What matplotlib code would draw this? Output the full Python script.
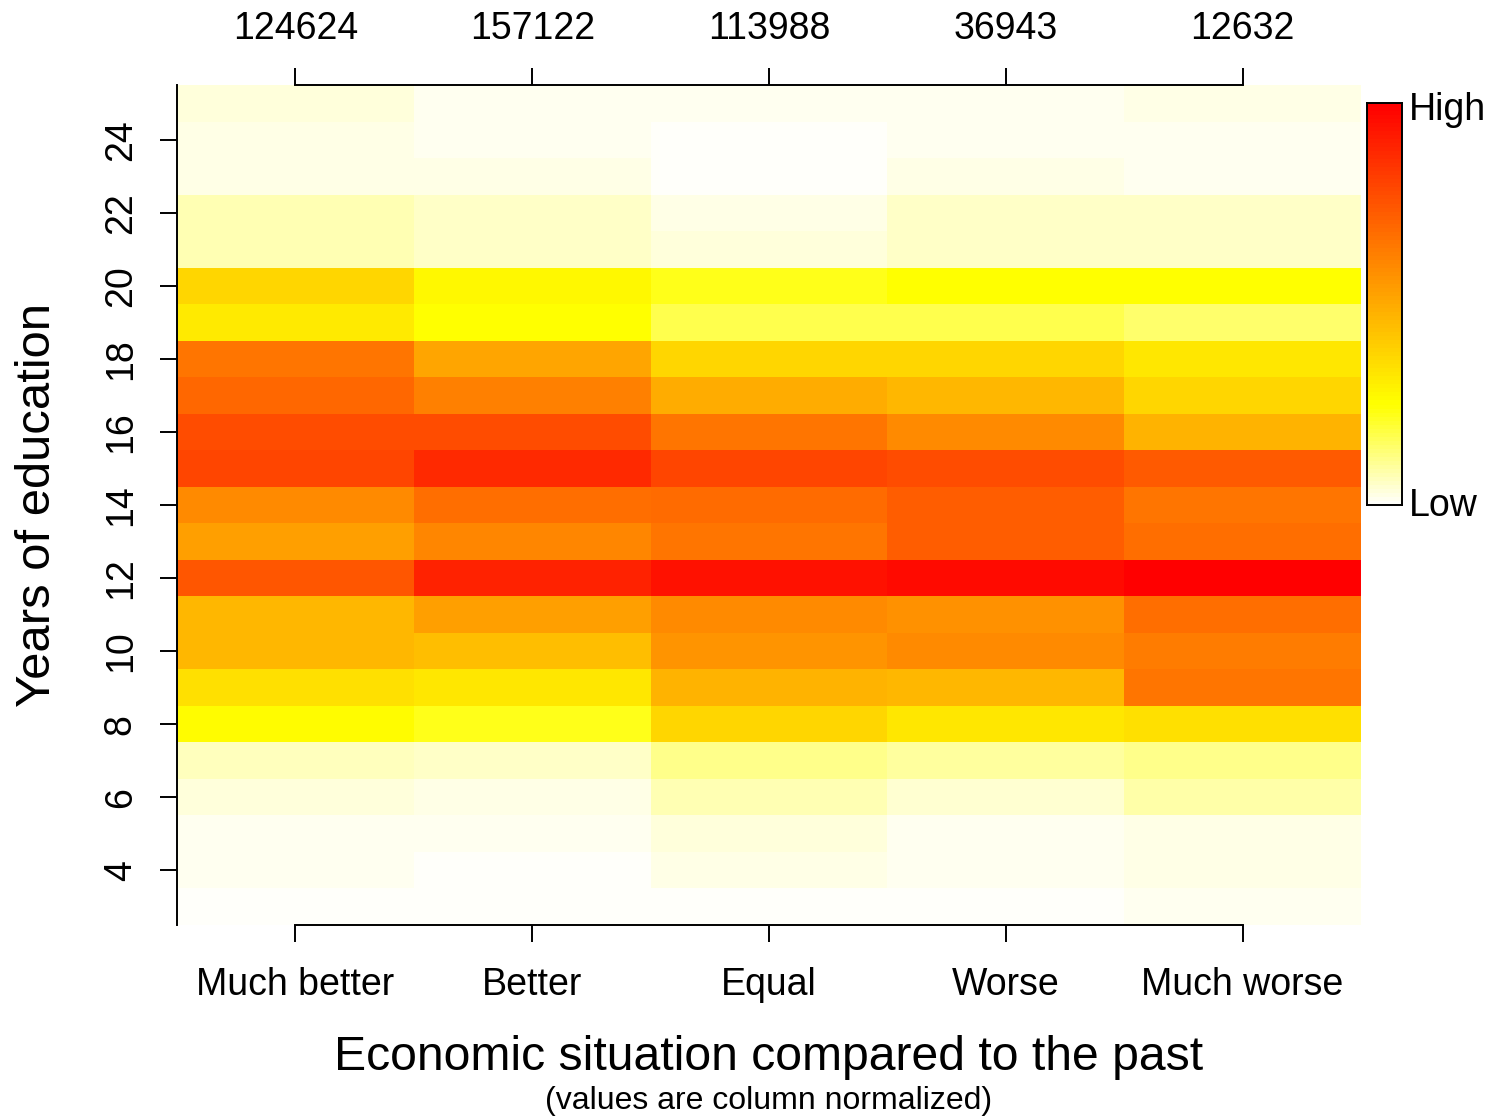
import colorsys

import matplotlib
matplotlib.use("Agg")
import matplotlib.pyplot as plt
import numpy as np
from matplotlib.colors import ListedColormap

plt.rcParams["font.family"] = ["Liberation Sans", "DejaVu Sans"]

# column-normalised values, years of education 3..25 (bottom to top)
years = list(range(3, 26))
categories = ["Much better", "Better", "Equal", "Worse", "Much worse"]
counts = ["124624", "157122", "113988", "36943", "12632"]

much_better = [0.008, 0.01, 0.012, 0.03, 0.062, 0.265, 0.34, 0.46, 0.46, 0.74, 0.53, 0.59,
               0.79, 0.775, 0.69, 0.65, 0.31, 0.375, 0.07, 0.07, 0.028, 0.025, 0.03]
better = [0.008, 0.008, 0.012, 0.02, 0.058, 0.225, 0.32, 0.44, 0.53, 0.895, 0.6, 0.67,
          0.87, 0.775, 0.625, 0.515, 0.25, 0.27, 0.058, 0.058, 0.022, 0.012, 0.012]
equal = [0.008, 0.025, 0.03, 0.07, 0.115, 0.37, 0.47, 0.565, 0.59, 0.94, 0.65, 0.68,
         0.795, 0.65, 0.49, 0.375, 0.17, 0.22, 0.03, 0.025, 0.008, 0.005, 0.012]
worse = [0.008, 0.012, 0.01, 0.04, 0.093, 0.32, 0.46, 0.59, 0.576, 0.965, 0.72, 0.72,
         0.775, 0.59, 0.46, 0.37, 0.17, 0.25, 0.05, 0.055, 0.02, 0.012, 0.012]
much_worse = [0.015, 0.02, 0.025, 0.085, 0.117, 0.34, 0.65, 0.635, 0.67, 1.0, 0.67, 0.65,
              0.73, 0.47, 0.375, 0.32, 0.14, 0.25, 0.05, 0.058, 0.018, 0.012, 0.022]


def heat_colors(n):
    # same construction as R's heat.colors()
    j = n // 4
    i = n - j
    cols = [colorsys.hsv_to_rgb(h, 1, 1) for h in np.linspace(0, 1 / 6, i)]
    cols += [colorsys.hsv_to_rgb(1 / 6, s, 1)
             for s in np.linspace(1 - 1 / (2 * j), 1 / (2 * j), j)]
    return cols


cmap = ListedColormap(heat_colors(100)[::-1])
grid = np.array([much_better, better, equal, worse, much_worse]).T

fig = plt.figure(figsize=(14.9, 11.18), dpi=100)
ax = fig.add_axes([177 / 1490, 1 - 925 / 1118, 1184 / 1490, 840 / 1118])
xs = np.arange(len(categories))
ax.pcolormesh(np.arange(len(categories) + 1) - 0.5, np.arange(len(years) + 1) + 2.5,
              grid, cmap=cmap, vmin=0, vmax=1)
ax.set_xlim(-0.5, len(categories) - 0.5)
ax.set_ylim(2.5, 25.5)

for s in ("top", "right"):
    ax.spines[s].set_visible(False)
ax.spines["bottom"].set_bounds(0, len(categories) - 1)
ax.set_xticks(xs)
ax.set_xticklabels(categories)
ax.set_yticks(range(4, 25, 2))
ax.tick_params(axis="both", length=12, width=1.4, labelsize=27)
ax.tick_params(axis="x", pad=18.5)
ax.tick_params(axis="y", labelrotation=90, pad=15.5)
for lab in ax.get_yticklabels():
    lab.set_va("center")
for s in ("left", "bottom"):
    ax.spines[s].set_linewidth(1.4)

top = ax.twiny()
top.set_xlim(ax.get_xlim())
for s in ("bottom", "left", "right"):
    top.spines[s].set_visible(False)
top.spines["top"].set_bounds(0, len(categories) - 1)
top.spines["top"].set_linewidth(1.4)
top.set_xticks(xs)
top.set_xticklabels(counts)
top.tick_params(length=12, width=1.4, labelsize=27, pad=15.5)

fig.text(38 / 1490, 1 - 505 / 1118, "Years of education", rotation=90,
         ha="center", va="center", fontsize=35.3)
fig.text(769 / 1490, 1 - 1058 / 1118, "Economic situation compared to the past",
         ha="center", va="center", fontsize=34.7)
fig.text(769 / 1490, 1 - 1101 / 1118, "(values are column normalized)",
         ha="center", va="center", fontsize=23)

# colour key
cax = fig.add_axes([1367 / 1490, 1 - 505 / 1118, 35 / 1490, 402 / 1118])
cax.imshow(np.linspace(0, 1, 100)[:, None], cmap=cmap, aspect="auto",
           origin="lower", vmin=0, vmax=1)
cax.set_xticks([])
cax.set_yticks([])
for s in cax.spines.values():
    s.set_linewidth(1.4)
fig.text(1409 / 1490, 1 - 110 / 1118, "High", ha="left", va="center", fontsize=27)
fig.text(1409 / 1490, 1 - 506 / 1118, "Low", ha="left", va="center", fontsize=27)

fig.savefig("out.png", dpi=100)
